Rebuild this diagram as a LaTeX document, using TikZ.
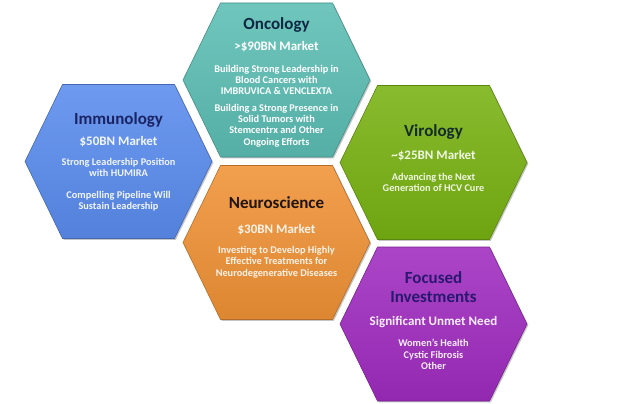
\documentclass[tikz,border=0pt]{standalone}
\usepackage{fontspec}
\setmainfont{Carlito}
\usetikzlibrary{shadows}
\definecolor{oncC}{RGB}{92,190,180}
\definecolor{immC}{RGB}{90,140,238}
\definecolor{virC}{RGB}{120,178,18}
\definecolor{neuC}{RGB}{240,146,54}
\definecolor{focC}{RGB}{160,44,192}
\definecolor{oncT}{RGB}{14,40,66}
\definecolor{immT}{RGB}{26,36,100}
\definecolor{virT}{RGB}{18,44,40}
\definecolor{neuT}{RGB}{34,20,14}
\definecolor{focT}{RGB}{42,24,112}
\tikzset{
  hexfill/.style={top color=#1!88!white, bottom color=#1!92!black, draw=#1!75!black, line width=0.6pt,
    drop shadow={shadow xshift=1.3pt, shadow yshift=-1.3pt, opacity=0.45}},
  ttl/.style={font=\fontsize{17}{19}\selectfont\bfseries, align=center, inner sep=0pt},
  mkt/.style={font=\fontsize{13}{14}\selectfont\bfseries, align=center, inner sep=0pt},
  bdy/.style={font=\fontsize{10.3}{11.3}\selectfont\bfseries, align=center, inner sep=0pt}
}
\newcommand\hexcell[3]{%
  \begin{scope}[shift={(#1,#2)}]
    \path[hexfill=#3] (-93.5,0) -- (-56,-77) -- (56,-77) -- (93.5,0) -- (56,77) -- (-56,77) -- cycle;
  \end{scope}}
\begin{document}
\begin{tikzpicture}[x=1pt,y=-1pt]
\useasboundingbox[fill=white] (0,0) rectangle (640,404);
\hexcell{276.5}{80}{oncC}
\hexcell{118.5}{161.5}{immC}
\hexcell{433.5}{162.5}{virC}
\hexcell{276.5}{242.5}{neuC}
\hexcell{433.5}{324}{focC}
% Oncology
\node[ttl, text=oncT] (onct) at (276.5,25) {Oncology};
\node[mkt, text=white] (oncm) at (276.5,47) {>\$90BN Market};
\node[bdy, text=white] (oncb1) at (276.5,80) {Building Strong Leadership in\\Blood Cancers with\\IMBRUVICA \& VENCLEXTA};
\node[bdy, text=white] (oncb2) at (276.5,125.5) {Building a Strong Presence in\\Solid Tumors with\\Stemcentrx and Other\\Ongoing Efforts};
% Immunology
\node[ttl, text=immT] (immt) at (118.5,120) {Immunology};
\node[mkt, text=white!92!immC] (immm) at (118.5,142) {\$50BN Market};
\node[bdy, text=white!92!immC] (immb1) at (118.5,167.5) {Strong Leadership Position\\with HUMIRA};
\node[bdy, text=white!92!immC] (immb2) at (118.5,201) {Compelling Pipeline Will\\Sustain Leadership};
% Virology
\node[ttl, text=virT] (virt) at (433.5,132) {Virology};
\node[mkt, text=white!88!virC] (virm) at (433.5,156) {\textasciitilde\$25BN Market};
\node[bdy, text=white!88!virC] (virb) at (433.5,182.5) {Advancing the Next\\Generation of HCV Cure};
% Neuroscience
\node[ttl, text=neuT] (neut) at (276.5,203) {Neuroscience};
\node[mkt, text=white!88!neuC] (neum) at (276.5,230) {\$30BN Market};
\node[bdy, text=white!88!neuC] (neub) at (276.5,262) {Investing to Develop Highly\\Effective Treatments for\\Neurodegenerative Diseases};
% Focused Investments
\node[ttl, text=focT] (foct) at (433.5,287.5) {Focused\\Investments};
\node[mkt, text=white!92!focC] (focm) at (433.5,322) {Significant Unmet Need};
\node[bdy, text=white!92!focC] (focb) at (433.5,354.5) {Women’s Health\\Cystic Fibrosis\\Other};
\end{tikzpicture}
\end{document}
